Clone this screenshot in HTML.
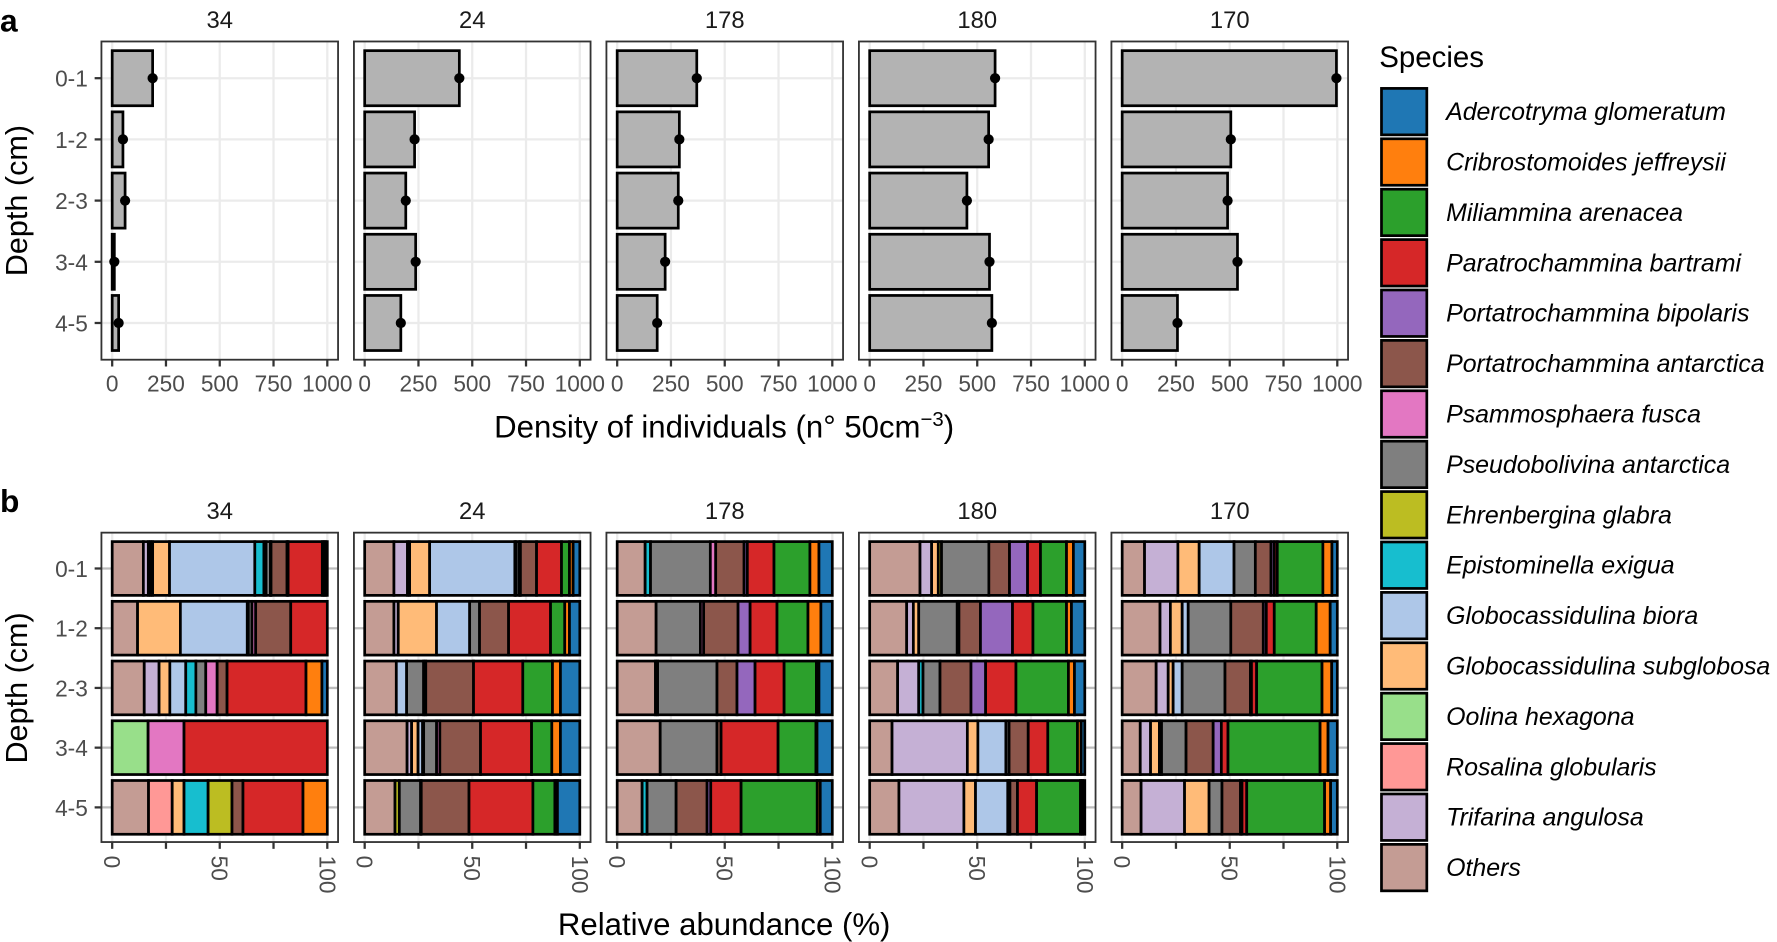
<!DOCTYPE html>
<html><head><meta charset="utf-8"><style>
html,body{margin:0;padding:0;background:#fff;}
svg{display:block;}
text{font-family:"Liberation Sans",Arial,sans-serif;}
</style></head><body>
<svg id="chart" width="1777" height="942" viewBox="0 0 1568 831.2" preserveAspectRatio="none" xmlns="http://www.w3.org/2000/svg">
<text x="0" y="28" font-size="28" font-weight="bold">a</text>
<text x="0" y="452" font-size="28" font-weight="bold">b</text>
<text transform="translate(24,177) rotate(-90)" text-anchor="middle" font-size="27">Depth (cm)</text>
<text transform="translate(24,607) rotate(-90)" text-anchor="middle" font-size="27">Depth (cm)</text>
<text x="639" y="386" text-anchor="middle" font-size="27.5">Density of individuals (n° 50cm<tspan dy="-10" font-size="18">−3</tspan><tspan dy="10">)</tspan></text>
<text x="639" y="825" text-anchor="middle" font-size="27.5">Relative abundance (%)</text>
<text x="1217" y="59" font-size="26">Species</text>
<g id="ga"></g><g id="gb"></g><g id="lg"></g>
</svg>
<script>
const stations = ["34","24","178","180","170"];
const depths = ["0-1","1-2","2-3","3-4","4-5"];
const density34 = [188,50,60,10,30];
const density24 = [440,232,191,237,168];
const density178 = [370,289,284,223,186];
const density180 = [583,553,452,557,568];
const density170 = [996,505,490,536,257];
const densityTicks = [0,250,500,750,1000];
const pctTicks = [0,25,50,75,100];
const pctLabels = ["0","","50","","100"];
const species = ["Adercotryma glomeratum","Cribrostomoides jeffreysii","Miliammina arenacea","Paratrochammina bartrami","Portatrochammina bipolaris","Portatrochammina antarctica","Psammosphaera fusca","Pseudobolivina antarctica","Ehrenbergina glabra","Epistominella exigua","Globocassidulina biora","Globocassidulina subglobosa","Oolina hexagona","Rosalina globularis","Trifarina angulosa","Others"];
const colors = ["#1f77b4","#ff7f0e","#2ca02c","#d62728","#9467bd","#8c564b","#e377c2","#7f7f7f","#bcbd22","#17becf","#aec7e8","#ffbb78","#98df8a","#ff9896","#c5b0d5","#c49c94"];
const abundance34 = [
 [14.4,2.3,1,1,7.8,39.4,4.2,1,2,0.3,7.4,0.5,15.8,0.8,0.8,0.7],
 [11.8,0,0,0,19.9,31.1,0,0.5,1.7,1.7,16.3,0,17,0,0,0],
 [14.9,6.9,0,0,5,7.4,4.7,0,4.6,5.3,4.6,0,36.7,0,7.4,2.5],
 [0,0,0,16.7,0,0,0,0,0,16.7,0,0,66.6,0,0,0],
 [16.9,0,11,0,5.5,0,11.2,11.1,0,0,5.1,0,27.9,0,11.3,0]];
const abundance24 = [
 [13.6,6.3,1,0,9.3,39.6,0,0.5,1.5,0.6,7.5,0,11.6,3.7,1.7,3.1],
 [13.6,2,0,0,17.8,15.4,0,0,4.6,0,13.5,0,19.5,6.6,2.2,4.8],
 [14.7,0,0,0,0,4.8,0,0,7.9,1,22.2,0,22.9,13.8,3.7,9],
 [19.7,2.1,0,0,3,2.1,0,0.5,6,1.5,18.9,0,23.7,9.4,4,9],
 [14.1,0,0,0,0,0,0,2,9.9,0.3,22.2,0,29.7,10.2,1.2,10.4]];
const abundance178 = [
 [13,0,0,0,0,0,2.5,0,27.8,2.5,13.2,1.5,12.4,16.7,4.2,6.2],
 [18.1,0,0,0,0,0,0,0,20.6,1.5,16,5.6,12.5,14.4,6,5.3],
 [17.8,0,0,0,0,0,1,0,27.6,0,9.3,8.4,13.5,15,1.2,6.2],
 [20,0,0,0,0,0,0,0,26.4,0,1.9,0,26.5,17.6,0.5,7.1],
 [11.6,0,0,0,0,0,2.3,0,13.5,0,14.4,1.7,14.1,35.4,1.4,5.6]];
const abundance180 = [
 [23.4,5.4,0,0,3.1,0,0,1.5,22,0,9.6,8.4,6,12.1,3.2,5.3],
 [17.2,3.1,0,0,2.5,0,0,0,17.9,0.8,10,14.9,9.5,15.6,2.3,6.2],
 [13,9.8,0,0,0,0,2,0,7.9,0,14.4,6.8,14.1,24.4,2.8,4.8],
 [10.4,35,0,0,4.9,13,0,0,1.5,0,8.9,0,9.1,13.8,1.7,1.7],
 [13.6,30.2,0,0,5.4,15,0,0,1,0,3.5,0,8.9,20.4,1,1]];
const abundance170 = [
 [10.4,15.5,0,0,9.9,16.2,0,0,9.9,0,7.3,1.5,1.4,21.2,4.2,2.5],
 [17.6,4.8,0,0,5.5,2.8,0,0,19.8,0,15.1,1.4,3.7,19.5,6.5,3.3],
 [15.8,5.6,0,0,2.3,4.2,0,0,19.9,0,11.8,0.5,2.4,30.4,4.5,2.6],
 [8.4,4.8,0,0,4.1,1,0,0,11.4,0,12.6,3.8,3.1,42.8,3.7,4.3],
 [8.8,20.2,0,0,11.4,0,0,0,6,0,8.6,0.7,2.2,36.2,2.8,3.1]];
const stackColorIdx = [15,14,13,12,11,10,9,8,7,6,5,4,3,2,1,0];

const densities = [density34,density24,density178,density180,density170];
const abundances = [abundance34,abundance24,abundance178,abundance180,abundance170];
const NS = "http://www.w3.org/2000/svg";
const panelX = [89.5,312.3,535.1,757.9,980.7], panelW = 208.8;
function mk(parent, tag, attrs){const e=document.createElementNS(NS,tag);for(const k in attrs)e.setAttribute(k,attrs[k]);parent.appendChild(e);return e;}
function xScale(p,v,max){const span=max*1.1;return panelX[p]+panelW*((v+max*0.05)/span);}
function yScale(top,step,i){return top+step*(0.6+i);}

function drawPanel(g, p, top, bottom, step, isA){
  const s = stations[p];
  const strip = mk(g,"text",{x:panelX[p]+panelW/2,y:top-12,"text-anchor":"middle","font-size":21,fill:"#1a1a1a"});
  strip.textContent = s;
  
  
  const max = isA?1000:100;
  const ticks = isA?densityTicks:pctTicks;
  ticks.forEach((t,i)=>{
    const x=xScale(p,t,max);
    const gl=mk(g,"line",{x1:x,x2:x,y1:top,y2:bottom,stroke:"#ebebeb","stroke-width":2});
    
    
    const tk=mk(g,"line",{x1:x,x2:x,y1:bottom,y2:bottom+6,stroke:"#333","stroke-width":2});
    
    
    if(isA){
      const lb=mk(g,"text",{x:x,y:bottom+28,"text-anchor":"middle","font-size":20,fill:"#4d4d4d"});
      lb.textContent=String(t);
      
      
    } else if(pctLabels[i]!==""){
      const lb=mk(g,"text",{transform:"translate("+x+","+(bottom+12)+") rotate(90)","text-anchor":"start","dominant-baseline":"central","font-size":20,fill:"#4d4d4d"});
      lb.textContent=pctLabels[i];
      
      
    }
  });
  depths.forEach((d,i)=>{
    const y=yScale(top,step,i);
    const gl=mk(g,"line",{x1:panelX[p],x2:panelX[p]+panelW,y1:y,y2:y,stroke:isA?"#ebebeb":"#bdbdbd","stroke-width":2});
    
    
    if(p===0){
      const tk=mk(g,"line",{x1:panelX[0]-6,x2:panelX[0],y1:y,y2:y,stroke:"#333","stroke-width":2});
      
      
      const lb=mk(g,"text",{x:panelX[0]-12,y:y+7.5,"text-anchor":"end","font-size":20,fill:"#4d4d4d"});
      lb.textContent=d;
      
      
    }
    const bh=step*0.9, by=y-bh/2;
    if(isA){
      const v=densities[p][i];
      const x0=xScale(p,0,max), x1=xScale(p,v,max);
      const r=mk(g,"rect",{x:x0,y:by,width:Math.max(x1-x0,0.5),height:bh,fill:"#b3b3b3",stroke:"#000","stroke-width":2.4});
      
      
      const c=mk(g,"circle",{cx:x1,cy:y,r:4.5,fill:"#000"});
      
      
    } else {
      const row=abundances[p][i];
      const tot=row.reduce((a,b)=>a+b,0);
      let cum=0;
      row.forEach((v,k)=>{
        if(v<=0) return;
        const x0=xScale(p,cum/tot*100,max); cum+=v;
        const x1=xScale(p,cum/tot*100,max);
        const ci=stackColorIdx[k];
        const r=mk(g,"rect",{x:x0,y:by,width:x1-x0,height:bh,fill:colors[ci],stroke:"#000","stroke-width":2.4});
        
        
      });
    }
  });
  const box=mk(g,"rect",{x:panelX[p],y:top,width:panelW,height:bottom-top,fill:"none",stroke:"#333","stroke-width":1.6});
  
  
}
const ga=document.getElementById("ga"), gb=document.getElementById("gb");
for(let p=0;p<5;p++){ drawPanel(ga,p,36.6,317.4,54,true); drawPanel(gb,p,470,743,52.7,false); }
const lg=document.getElementById("lg");
species.forEach((sp,i)=>{
  const y=78+i*44.47;
  const r=mk(lg,"rect",{x:1219,y:y,width:40,height:41,fill:colors[i],stroke:"#000","stroke-width":2.4});
  
  
  const t=mk(lg,"text",{x:1276,y:y+28,"font-size":22,"font-style":"italic",fill:"#000"});
  t.textContent=sp;
  
  
});
</script>
</body></html>
